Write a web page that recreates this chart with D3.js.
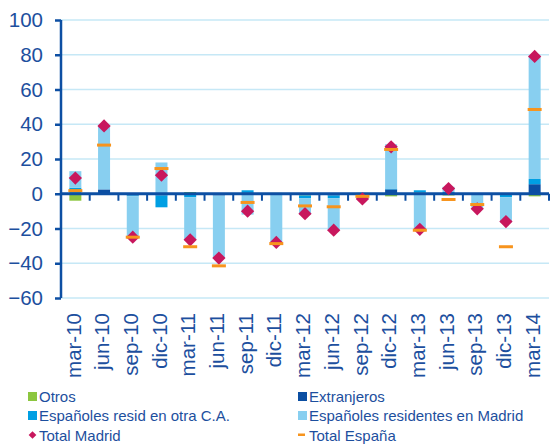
<!DOCTYPE html>
<html>
<head>
<meta charset="utf-8">
<script src="https://cdn.jsdelivr.net/npm/d3@7"></script>
<style>
  html, body { margin: 0; padding: 0; background: #ffffff; }
  svg { display: block; font-family: "Liberation Sans", Arial, sans-serif; }
</style>
</head>
<body>
<svg id="chart" width="558" height="447"></svg>
<script>
const categories = ["mar-10","jun-10","sep-10","dic-10","mar-11","jun-11","sep-11","dic-11","mar-12","jun-12","sep-12","dic-12","mar-13","jun-13","sep-13","dic-13","mar-14"];
const otros       = [-4, 0, 0, 0, 1, 0, 0.5, 0.5, -1, 0, 0, -1.5, 0.7, -1, 0, 0, -1.5];
const extranjeros = [0, 2.5, -1, -1, -0.5, -1, 0, 0, 0, -1, 0, 2.5, 0, 0, 0, -0.5, 5.5];
const espOtraCA   = [3.5, 0, -0.5, -6.8, -1.5, 0, 1.5, 0, -1.5, -1.5, 0.5, 0.5, 1.3, 1, 0, -1.5, 3];
const espMadrid   = [9.5, 36.5, -23.5, 18, -24.5, -36, -12, -29.5, -9.5, -18.5, -3.2, 25.5, -21.5, 3, -8, -14.5, 71];
const totalMadrid = [9, 39, -25, 10.7, -26.5, -37, -10, -28, -11.5, -21, -3, 27, -20.5, 3, -8.7, -16, 79];
const totalEspana = [1.8, 28, -25, 14.5, -30.5, -41.5, -5, -28.7, -7, -7.5, -1.5, 25.5, -21, -3.3, -6.2, -30.5, 48.5];
const yTicks = [100, 80, 60, 40, 20, 0, -20, -40, -60];

const seriesNames = ["Otros", "Extranjeros", "Españoles resid en otra C.A.", "Españoles residentes en Madrid"];
const seriesColors = ["#8cc63f", "#0b4ea2", "#009fe3", "#88cff0"];
const madridColor = "#c8175d";
const espanaColor = "#f7941d";
const axisColor = "#0d4fa3";
const textColor = "#1d4f9e";
const gridColor = "#c6e8f6";

const table = categories.map((c, i) => ({
  cat: c,
  "Otros": otros[i],
  "Extranjeros": extranjeros[i],
  "Españoles resid en otra C.A.": espOtraCA[i],
  "Españoles residentes en Madrid": espMadrid[i]
}));

const svg = d3.select("#chart");
const plotL = 61, plotR = 549, plotT = 20, plotB = 298;

const x = d3.scaleBand().domain(categories).range([plotL, plotR]).padding(0);
const y = d3.scaleLinear().domain([-60, 100]).range([plotB, plotT]);

// gridlines
svg.append("g").selectAll("line").data(yTicks.filter(d => d !== 0)).join("line")
  .attr("x1", plotL).attr("x2", plotR)
  .attr("y1", d => y(d)).attr("y2", d => y(d))
  .attr("stroke", gridColor).attr("stroke-width", 1.5);

// stacked bars
const stack = d3.stack().keys(seriesNames).offset(d3.stackOffsetDiverging);
const stacked = stack(table);
const barW = 12;
svg.append("g").selectAll("g").data(stacked).join("g")
  .attr("fill", (d, i) => seriesColors[i])
  .selectAll("rect").data(d => d).join("rect")
  .attr("x", d => x(d.data.cat) + x.bandwidth() / 2 - barW / 2)
  .attr("width", barW)
  .attr("y", d => y(Math.max(d[0], d[1])))
  .attr("height", d => Math.abs(y(d[0]) - y(d[1])));

// x axis line at zero
const y0 = y(0);
svg.append("line").attr("x1", plotL).attr("x2", plotR).attr("y1", y0).attr("y2", y0)
  .attr("stroke", axisColor).attr("stroke-width", 3);
const boundaries = categories.map(c => x(c) + x.step());
svg.append("g").selectAll("line").data(boundaries).join("line")
  .attr("x1", d => d).attr("x2", d => d)
  .attr("y1", y0).attr("y2", y0 + 7)
  .attr("stroke", axisColor).attr("stroke-width", 2);

// y axis
const yAxis = d3.axisLeft(y).tickValues(yTicks).tickSize(6).tickPadding(12);
const gy = svg.append("g").attr("transform", `translate(${plotL},0)`).call(yAxis);
gy.select(".domain").attr("stroke", axisColor).attr("stroke-width", 2.5)
  .attr("d", `M0,${plotT}V${plotB}`);
gy.selectAll(".tick line").attr("stroke", axisColor).attr("stroke-width", 2.5);
gy.selectAll(".tick text").attr("fill", textColor).style("font-size", "20.5px")
  .style("font-family", "'Liberation Sans', Arial, sans-serif");

// Total Madrid diamonds
const diamond = d3.symbol(d3.symbolSquare, 88);
svg.append("g").selectAll("path").data(totalMadrid).join("path")
  .attr("d", diamond)
  .attr("transform", (d, i) => `translate(${x(categories[i]) + x.bandwidth() / 2},${y(d)}) rotate(45)`)
  .attr("fill", madridColor);

// Total España dashes (drawn on top)
svg.append("g").selectAll("rect").data(totalEspana).join("rect")
  .attr("x", (d, i) => x(categories[i]) + x.bandwidth() / 2 - 7)
  .attr("y", d => y(d) - 1.5)
  .attr("width", 14).attr("height", 3)
  .attr("fill", espanaColor);

// x labels
svg.append("g").selectAll("text").data(categories).join("text")
  .attr("transform", d => `translate(${x(d) + x.bandwidth() / 2 - 2},313) rotate(-90)`)
  .attr("text-anchor", "end")
  .attr("dy", "0.35em")
  .attr("fill", textColor)
  .style("font-size", "20.5px")
  .text(d => d);

// legend
const legendItems = [
  { name: "Otros", type: "box", color: seriesColors[0], col: 0, row: 0 },
  { name: "Extranjeros", type: "box", color: seriesColors[1], col: 1, row: 0 },
  { name: "Españoles resid en otra C.A.", type: "box", color: seriesColors[2], col: 0, row: 1 },
  { name: "Españoles residentes en Madrid", type: "box", color: seriesColors[3], col: 1, row: 1 },
  { name: "Total Madrid", type: "diamond", color: madridColor, col: 0, row: 2 },
  { name: "Total España", type: "dash", color: espanaColor, col: 1, row: 2 }
];
const colX = [28, 298];
const rowY = [402, 421, 440.5];
const lg = svg.append("g").selectAll("g").data(legendItems).join("g")
  .attr("transform", d => `translate(${colX[d.col]},${rowY[d.row]})`);
lg.each(function(d) {
  const g = d3.select(this);
  if (d.type === "box") {
    g.append("rect").attr("x", 0).attr("y", -10).attr("width", 9).attr("height", 9).attr("fill", d.color);
  } else if (d.type === "diamond") {
    g.append("path").attr("d", d3.symbol(d3.symbolSquare, 30))
      .attr("transform", "translate(4.5,-5.5) rotate(45)").attr("fill", d.color);
  } else {
    g.append("rect").attr("x", 0).attr("y", -7).attr("width", 7).attr("height", 2.5).attr("fill", d.color);
  }
  g.append("text").attr("x", 11).attr("y", 0).attr("fill", textColor)
    .style("font-size", "15px").text(d.name);
});
</script>
</body>
</html>
